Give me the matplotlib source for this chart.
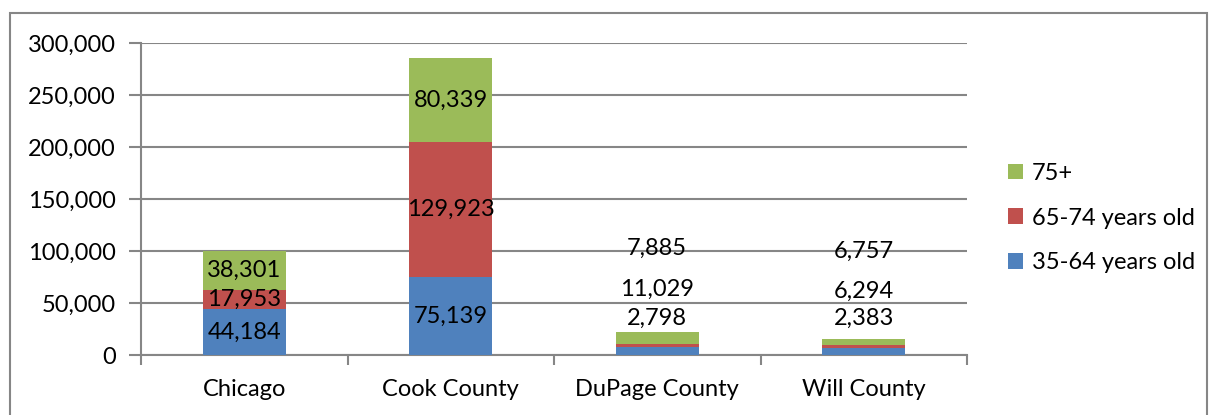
import matplotlib.pyplot as plt
from matplotlib.patches import Rectangle
from matplotlib.ticker import FuncFormatter

plt.rcParams['font.family'] = ['Lato', 'DejaVu Sans']

regions = ['Chicago', 'Cook County', 'DuPage County', 'Will County']
age_35_64 = [44184, 75139, 7885, 6757]
age_65_74 = [17953, 129923, 2798, 2383]
age_75_up = [38301, 80339, 11029, 6294]
series_names = ['35-64 years old', '65-74 years old', '75+']

# label positions for the two small bars (labels sit above the bars)
small_label_y = {
    2: [103000, 35500, 63500],
    3: [99500, 35500, 61000],
}

colors = ['#4F81BD', '#C0504D', '#9BBB59']
grid_c = '#868686'
fs = 17

fig = plt.figure(figsize=(12.11, 4.15), dpi=100)
fig.patches.append(Rectangle((10 / 1211, -0.1), 1197 / 1211, 1.1 - 13 / 415,
                             transform=fig.transFigure, fill=False,
                             edgecolor=grid_c, linewidth=1.5))
ax = fig.add_axes([141 / 1211, 1 - 355 / 415, (967 - 141) / 1211, (355 - 43) / 415])

x = list(range(len(regions)))
bottom = [0] * len(regions)
for vals, col, name in zip([age_35_64, age_65_74, age_75_up], colors, series_names):
    ax.bar(x, vals, width=0.4, bottom=bottom, color=col, label=name, zorder=3)
    bottom = [a + v for a, v in zip(bottom, vals)]

# labels inside the big bars
for i in (0, 1):
    base = 0
    for vals in [age_35_64, age_65_74, age_75_up]:
        ax.text(i, base + vals[i] / 2, f'{vals[i]:,}', ha='center', va='center',
                fontsize=fs, zorder=4)
        base += vals[i]

for i, ys in small_label_y.items():
    for vals, y in zip([age_35_64, age_65_74, age_75_up], ys):
        ax.text(i, y, f'{vals[i]:,}', ha='center', va='center', fontsize=fs, zorder=4)

ax.set_xlim(-0.5, 3.5)
ax.set_ylim(0, 300000)
ax.set_yticks(range(0, 300001, 50000))
ax.yaxis.set_major_formatter(FuncFormatter(lambda v, p: f'{int(v):,}'))
ax.set_xticks(x)
ax.set_xticklabels(regions)
ax.set_xticks([-0.5, 0.5, 1.5, 2.5, 3.5], minor=True)
ax.tick_params(axis='x', which='major', length=0, pad=17, labelsize=fs)
ax.tick_params(axis='x', which='minor', length=7, width=1.5, color=grid_c)
ax.tick_params(axis='y', length=9, width=1.5, color=grid_c, labelsize=fs, pad=9)

ax.grid(axis='y', color=grid_c, linewidth=1.5, zorder=0)
for s in ['top', 'right']:
    ax.spines[s].set_visible(False)
for s in ['left', 'bottom']:
    ax.spines[s].set_color(grid_c)
    ax.spines[s].set_linewidth(1.5)

handles, labels = ax.get_legend_handles_labels()
fig.legend(handles[::-1], labels[::-1], loc='center left',
           bbox_to_anchor=(1008 / 1211, 1 - 218 / 415), frameon=False,
           borderpad=0, borderaxespad=0,
           fontsize=fs, handlelength=0.65, handleheight=0.65, handletextpad=0.35,
           labelspacing=1.0)

fig.savefig('out.png', dpi=100)
